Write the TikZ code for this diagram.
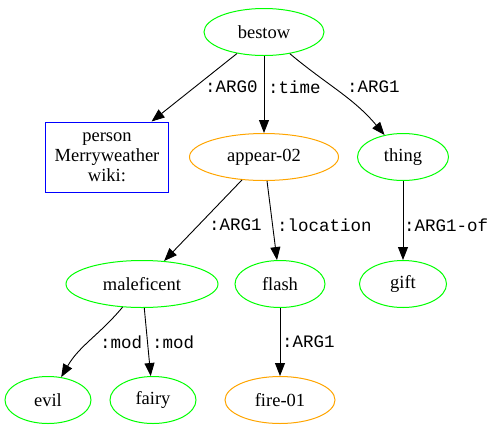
\documentclass[tikz,border=0pt]{standalone}
\usepackage{fontspec}
\setmainfont{Liberation Serif}
\setmonofont{Liberation Mono}
\usetikzlibrary{shapes.geometric,arrows.meta}
\definecolor{amrgreen}{RGB}{0,255,0}
\definecolor{amrorange}{RGB}{255,165,0}
\definecolor{amrblue}{RGB}{0,0,255}
\tikzset{
  concept/.style={ellipse, draw=amrgreen, line width=1pt, minimum height=47pt, inner sep=0pt,
    font=\fontsize{18.5}{20}\selectfont},
  event/.style={concept, draw=amrorange},
  entity/.style={rectangle, draw=amrblue, line width=1pt, minimum width=123pt, minimum height=70pt,
    inner sep=0pt, align=center, font=\fontsize{18.5}{20}\selectfont},
  role/.style={anchor=west, inner sep=0pt, font=\ttfamily\fontsize{17.5}{20}\selectfont},
  rel/.style={-{Triangle[length=13pt,width=10pt]}, line width=0.9pt}
}
\begin{document}
\begin{tikzpicture}[x=1pt,y=1pt]
	\useasboundingbox (0,0) rectangle (498,-429);
	
	% nodes
	\node[concept, minimum width=120pt] (bestow) at (264,-32) {bestow};
	\node[entity] (person) at (107,-157) {person\\Merryweather\\wiki:};
	\node[event, minimum width=149pt] (appear) at (264,-157) {appear-02};
	\node[concept, minimum width=91pt] (thing) at (403,-157) {thing};
	\node[concept, minimum width=152pt] (maleficent) at (142,-284) {maleficent};
	\node[concept, minimum width=90pt] (flash) at (280,-284) {flash};
	\node[concept, minimum width=87pt] (gift) at (403,-284) {gift};
	\node[concept, minimum width=86pt] (evil) at (48,-400) {evil};
	\node[concept, minimum width=86pt] (fairy) at (153,-400) {fairy};
	\node[event, minimum width=110pt] (fire) at (280,-400) {fire-01};
	
	% edges
	\draw[rel] (bestow) -- (person);
	\draw[rel] (bestow) -- (appear);
	\draw[rel] (bestow) to[out=-40,in=130] (thing);
	\draw[rel] (appear) -- (maleficent);
	\draw[rel] (appear) -- (flash);
	\draw[rel] (thing) -- (gift);
	\draw[rel] (maleficent) to[out=-130,in=60] (evil);
	\draw[rel] (maleficent) -- (fairy);
	\draw[rel] (flash) -- (fire);
	
	% roles
	\node[role] (r0) at (205,-87) {:ARG0};
	\node[role] (r1) at (268,-87) {:time};
	\node[role] (r2) at (347,-87) {:ARG1};
	\node[role] (r3) at (209,-225) {:ARG1};
	\node[role] (r4) at (277,-225) {:location};
	\node[role] (r5) at (404,-225) {:ARG1-of};
	\node[role] (r6) at (100,-342) {:mod};
	\node[role] (r7) at (152,-342) {:mod};
	\node[role] (r8) at (282,-342) {:ARG1};
\end{tikzpicture}
\end{document}
